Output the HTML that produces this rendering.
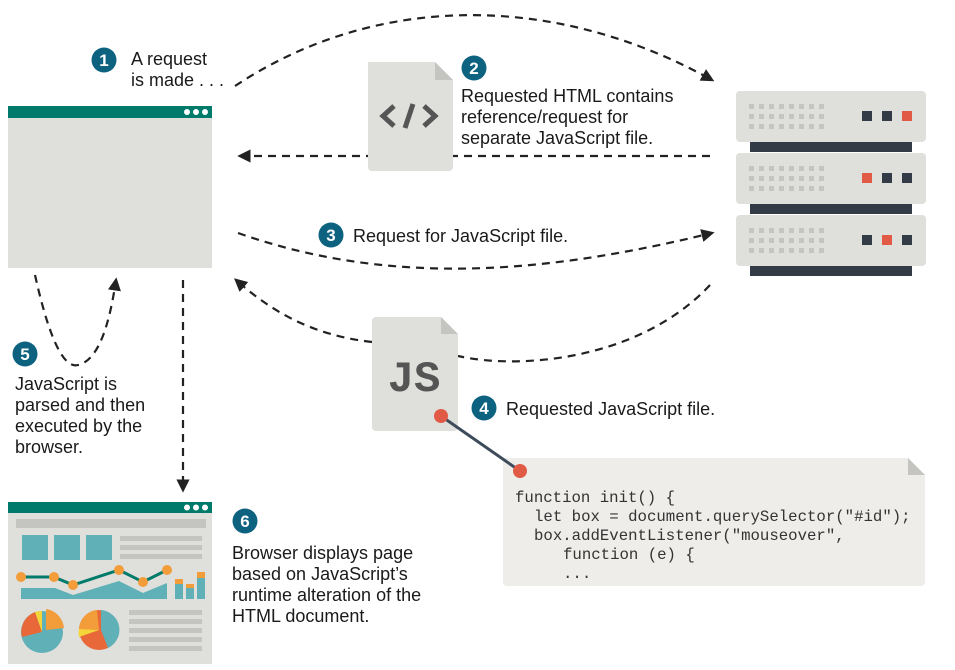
<!DOCTYPE html>
<html><head><meta charset="utf-8"><style>
html,body{margin:0;padding:0;background:#fff;}
svg{display:block;}
.t{font-family:"Liberation Sans",sans-serif;font-size:18px;fill:#1a1a1a;}
.m{font-family:"Liberation Mono",monospace;font-size:15.7px;fill:#333;}
.d{fill:none;stroke:#222;stroke-width:2.2;stroke-dasharray:8 6;}
.b{fill:#0d6280;}
.bn{font-family:"Liberation Sans",sans-serif;font-weight:bold;font-size:17px;fill:#fff;text-anchor:middle;}
</style></head><body>
<svg width="955" height="670" viewBox="0 0 955 670" xmlns="http://www.w3.org/2000/svg">
<defs>
<marker id="a" viewBox="0 0 10 10" refX="8" refY="5" markerWidth="6" markerHeight="6" orient="auto-start-reverse"><path d="M0,0 L10,5 L0,10 z" fill="#222"/></marker>
</defs>
<rect x="8" y="106" width="204" height="162" fill="#dfdfdb"/>
<rect x="8" y="106" width="204" height="12" fill="#007a6a"/>
<circle cx="187" cy="112" r="3" fill="#fff"/><circle cx="196" cy="112" r="3" fill="#fff"/><circle cx="205" cy="112" r="3" fill="#fff"/>

<g>
<rect x="750" y="142" width="162" height="10" fill="#333c46"/>
<rect x="750" y="204" width="162" height="10" fill="#333c46"/>
<rect x="750" y="266" width="162" height="10" fill="#333c46"/>
<rect x="736" y="91" width="190" height="51" rx="4" fill="#dfdfdb"/>
<rect x="736" y="153" width="190" height="51" rx="4" fill="#dfdfdb"/>
<rect x="736" y="215" width="190" height="51" rx="4" fill="#dfdfdb"/>
</g>
<g fill="#c4c4c0">
<g id="dots"><path d="M749,104h5v5h-5zM759,104h5v5h-5zM769,104h5v5h-5zM779,104h5v5h-5zM789,104h5v5h-5zM799,104h5v5h-5zM809,104h5v5h-5zM819,104h5v5h-5z"/>
<path d="M749,114h5v5h-5zM759,114h5v5h-5zM769,114h5v5h-5zM779,114h5v5h-5zM789,114h5v5h-5zM799,114h5v5h-5zM809,114h5v5h-5zM819,114h5v5h-5z"/>
<path d="M749,124h5v5h-5zM759,124h5v5h-5zM769,124h5v5h-5zM779,124h5v5h-5zM789,124h5v5h-5zM799,124h5v5h-5zM809,124h5v5h-5zM819,124h5v5h-5z"/></g>
<use href="#dots" transform="translate(0,62)"/>
<use href="#dots" transform="translate(0,124)"/>
</g>
<rect x="862" y="111" width="10" height="10" fill="#333c46"/><rect x="882" y="111" width="10" height="10" fill="#333c46"/><rect x="902" y="111" width="10" height="10" fill="#e05a45"/>
<rect x="862" y="173" width="10" height="10" fill="#e05a45"/><rect x="882" y="173" width="10" height="10" fill="#333c46"/><rect x="902" y="173" width="10" height="10" fill="#333c46"/>
<rect x="862" y="235" width="10" height="10" fill="#333c46"/><rect x="882" y="235" width="10" height="10" fill="#e05a45"/><rect x="902" y="235" width="10" height="10" fill="#333c46"/>

<path class="d" d="M235,86 C380,-10 560,-5 712,80" marker-end="url(#a)"/>
<path class="d" d="M710,156 L240,156" marker-end="url(#a)"/>
<path class="d" d="M238,233 C400,290 560,270 712,233" marker-end="url(#a)"/>
<path class="d" d="M710,285 C640,360 520,370 458,356"/>
<path class="d" d="M372,342 C310,335 270,310 236,280" marker-end="url(#a)"/>
<path class="d" d="M35,275 C45,320 60,370 78,365 C100,360 110,320 116,280" marker-end="url(#a)"/>
<path class="d" d="M183,280 L183,490" marker-end="url(#a)"/>

<path d="M368,62 H435 L453,80 V167 a4,4 0 0 1 -4,4 H372 a4,4 0 0 1 -4,-4 z" fill="#dfdfdb"/>
<path d="M435,62 L453,80 H435 z" fill="#c4c4c0"/>
<path d="M394,106 L383,116 L394,126 M413,104 L405,128 M424,106 L435,116 L424,126" fill="none" stroke="#555" stroke-width="5"/>

<path d="M372,317 H441 L458,334 V427 a4,4 0 0 1 -4,4 H376 a4,4 0 0 1 -4,-4 V321 a4,4 0 0 1 4,-4 z" fill="#dfdfdb"/>
<path d="M441,317 L458,334 H441 z" fill="#c4c4c0"/>
<text x="414" y="391" font-family="Liberation Mono,monospace" font-weight="bold" font-size="44" fill="#555" text-anchor="middle">JS</text>

<path d="M507,458 H908 L925,475 V582 a4,4 0 0 1 -4,4 H507 a4,4 0 0 1 -4,-4 V462 a4,4 0 0 1 4,-4 z" fill="#efedea"/>
<path d="M908,458 L925,475 H908 z" fill="#c4c4c0"/>
<line x1="441" y1="416" x2="520" y2="471" stroke="#3d4c5a" stroke-width="3"/>
<circle cx="441" cy="416" r="7" fill="#e05a45"/><circle cx="520" cy="471" r="7" fill="#e05a45"/>
<text class="m" x="515" y="502">function init() {</text>
<text class="m" x="534" y="521">let box = document.querySelector("#id");</text>
<text class="m" x="534" y="540">box.addEventListener("mouseover",</text>
<text class="m" x="563" y="559">function (e) {</text>
<text class="m" x="563" y="578">...</text>

<rect x="8" y="502" width="204" height="162" fill="#dfdfdb"/>
<rect x="8" y="502" width="204" height="11" fill="#007a6a"/>
<circle cx="187" cy="507.5" r="3" fill="#fff"/><circle cx="196" cy="507.5" r="3" fill="#fff"/><circle cx="205" cy="507.5" r="3" fill="#fff"/>
<rect x="16" y="519" width="190" height="9" fill="#c4c4c0"/>
<rect x="22" y="535" width="26" height="25" fill="#5fb0b7"/><rect x="54" y="535" width="26" height="25" fill="#5fb0b7"/><rect x="86" y="535" width="26" height="25" fill="#5fb0b7"/>
<g fill="#c4c4c0"><rect x="120" y="536" width="82" height="5"/><rect x="120" y="545" width="82" height="5"/><rect x="120" y="554" width="82" height="5"/>
<rect x="129" y="610" width="73" height="5"/><rect x="129" y="619" width="73" height="5"/><rect x="129" y="628" width="73" height="5"/><rect x="129" y="637" width="73" height="5"/><rect x="129" y="646" width="73" height="5"/></g>
<path d="M21,588 H55 L73,595 L119,581 L143,593 L167,583 V599 H21 z" fill="#5fb0b7"/>
<polyline points="21,577 54,577 73,585 119,570 143,582 167,570" fill="none" stroke="#007a6a" stroke-width="3"/>
<g fill="#f39c3a"><circle cx="21" cy="577" r="5"/><circle cx="54" cy="577" r="5"/><circle cx="73" cy="585" r="5"/><circle cx="119" cy="570" r="5"/><circle cx="143" cy="582" r="5"/><circle cx="167" cy="570" r="5"/></g>
<rect x="175" y="583" width="8" height="16" fill="#5fb0b7"/><rect x="175" y="579" width="8" height="5" fill="#f39c3a"/>
<rect x="186" y="587" width="8" height="12" fill="#5fb0b7"/><rect x="186" y="584" width="8" height="4" fill="#f39c3a"/>
<rect x="197" y="577" width="8" height="22" fill="#5fb0b7"/><rect x="197" y="572" width="8" height="6" fill="#f39c3a"/>
<circle cx="42" cy="632" r="21" fill="#5fb0b7"/>
<path d="M42,632 L22,637 A21,21 0 0 1 35,612 z" fill="#e8683a"/>
<path d="M42,632 L35,612 A21,21 0 0 1 42,611 z" fill="#f5d63a"/>
<path d="M46,630 L46,609 A21,21 0 0 1 64,628 z" fill="#f39c3a"/>
<circle cx="99" cy="630" r="20" fill="#e8683a"/>
<path d="M101,630 L101,610 A20,20 0 0 1 108,648 z" fill="#5fb0b7"/>
<path d="M99,630 L79,629 A20,20 0 0 1 97,610 z" fill="#f39c3a"/>
<path d="M99,630 L79,637 A20,20 0 0 1 79,629 z" fill="#f5d63a"/>

<circle class="b" cx="104" cy="60" r="12.5"/><text class="bn" x="104" y="66">1</text>
<text class="t" x="131" y="65">A request</text><text class="t" x="131" y="86">is made . . .</text>
<circle class="b" cx="474" cy="68" r="12.5"/><text class="bn" x="474" y="74">2</text>
<text class="t" x="461" y="102">Requested HTML contains</text>
<text class="t" x="461" y="123">reference/request for</text>
<text class="t" x="461" y="144">separate JavaScript file.</text>
<circle class="b" cx="331" cy="235" r="12.5"/><text class="bn" x="331" y="241">3</text>
<text class="t" x="353" y="242">Request for JavaScript file.</text>
<circle class="b" cx="484" cy="408" r="12.5"/><text class="bn" x="484" y="414">4</text>
<text class="t" x="506" y="415">Requested JavaScript file.</text>
<circle class="b" cx="25" cy="354" r="12.5"/><text class="bn" x="25" y="360">5</text>
<text class="t" x="15" y="390">JavaScript is</text>
<text class="t" x="15" y="411">parsed and then</text>
<text class="t" x="15" y="432">executed by the</text>
<text class="t" x="15" y="453">browser.</text>
<circle class="b" cx="245" cy="521" r="12.5"/><text class="bn" x="245" y="527">6</text>
<text class="t" x="232" y="559">Browser displays page</text>
<text class="t" x="232" y="580">based on JavaScript’s</text>
<text class="t" x="232" y="601">runtime alteration of the</text>
<text class="t" x="232" y="622">HTML document.</text>
</svg>
</body></html>
